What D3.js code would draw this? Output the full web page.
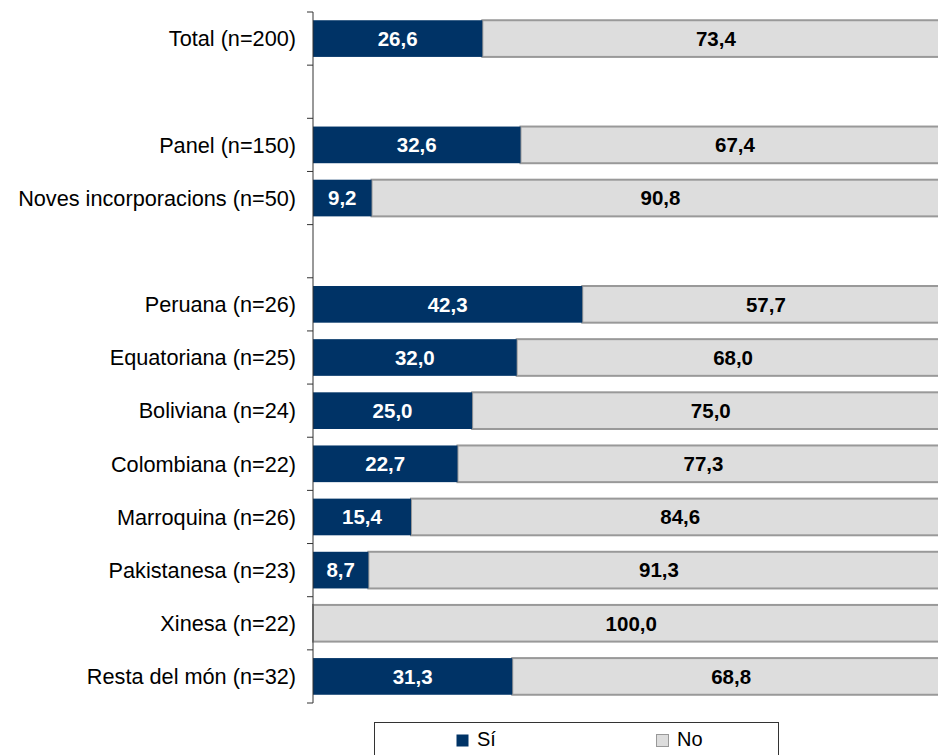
<!DOCTYPE html>
<html>
<head>
<meta charset="utf-8">
<script src="https://cdn.jsdelivr.net/npm/d3@7"></script>
<style>
    body { margin: 0; background: #fff; }
    svg { display: block; font-family: "Liberation Sans", Arial, sans-serif; }
</style>
</head>
<body>
<script>
//categories, blank slots keep the gaps between groups
var categories = ["Total (n=200)", "_gap1", "Panel (n=150)", "Noves incorporacions (n=50)", "_gap2",
    "Peruana (n=26)", "Equatoriana (n=25)", "Boliviana (n=24)", "Colombiana (n=22)",
    "Marroquina (n=26)", "Pakistanesa (n=23)", "Xinesa (n=22)", "Resta del món (n=32)"];
var siValues = [26.6, null, 32.6, 9.2, null, 42.3, 32.0, 25.0, 22.7, 15.4, 8.7, 0, 31.3];
var noValues = [73.4, null, 67.4, 90.8, null, 57.7, 68.0, 75.0, 77.3, 84.6, 91.3, 100.0, 68.8];
var seriesNames = ["Sí", "No"];
var seriesColors = ["#003366", "#dddddd"];

function drawChart(){
    var width = 938,
        height = 755;

    var svg = d3.select("body")
        .append("svg")
        .attr("width", width)
        .attr("height", height);

    //scales
    var x = d3.scaleLinear()
        .domain([0, 100])
        .range([313, 949.5]);

    var y = d3.scaleBand()
        .domain(categories)
        .range([12, 703])
        .paddingInner(0.31)
        .paddingOuter(0.155);

    var fmt = function(v){ return v.toFixed(1).replace(".", ","); };

    var rows = categories.map(function(c, i){
        return {cat: c, si: siValues[i], no: noValues[i]};
    }).filter(function(d){ return d.si !== null; });

    //No bars (underneath, full stack)
    svg.selectAll(".noBar")
        .data(rows)
        .enter()
        .append("rect")
        .attr("class", "noBar")
        .attr("x", function(d){ return x(d.si); })
        .attr("y", function(d){ return y(d.cat); })
        .attr("width", function(d){ return x(d.si + d.no) - x(d.si); })
        .attr("height", y.bandwidth())
        .attr("fill", seriesColors[1])
        .attr("stroke", "#999999")
        .attr("stroke-width", 2);

    //Sí bars
    svg.selectAll(".siBar")
        .data(rows.filter(function(d){ return d.si > 0; }))
        .enter()
        .append("rect")
        .attr("class", "siBar")
        .attr("x", x(0))
        .attr("y", function(d){ return y(d.cat); })
        .attr("width", function(d){ return x(d.si) - x(0); })
        .attr("height", y.bandwidth())
        .attr("fill", seriesColors[0]);

    //value labels
    svg.selectAll(".siLabel")
        .data(rows.filter(function(d){ return d.si > 0; }))
        .enter()
        .append("text")
        .attr("x", function(d){ return (x(0) + x(d.si)) / 2; })
        .attr("y", function(d){ return y(d.cat) + y.bandwidth() / 2; })
        .attr("dy", "0.36em")
        .attr("text-anchor", "middle")
        .attr("fill", "#ffffff")
        .style("font-weight", "bold")
        .style("font-size", "20.5px")
        .text(function(d){ return fmt(d.si); });

    svg.selectAll(".noLabel")
        .data(rows)
        .enter()
        .append("text")
        .attr("x", function(d){ return (x(d.si) + x(d.si + d.no)) / 2; })
        .attr("y", function(d){ return y(d.cat) + y.bandwidth() / 2; })
        .attr("dy", "0.36em")
        .attr("text-anchor", "middle")
        .attr("fill", "#000000")
        .style("font-weight", "bold")
        .style("font-size", "20.5px")
        .text(function(d){ return fmt(d.no); });

    //category axis with ticks at the slot boundaries
    var step = y.step();
    var boundaries = d3.range(categories.length + 1).map(function(i){ return 12 + i * step; });
    svg.append("line")
        .attr("x1", x(0)).attr("x2", x(0))
        .attr("y1", 12).attr("y2", 703)
        .attr("stroke", "#333333");
    svg.selectAll(".tick")
        .data(boundaries)
        .enter()
        .append("line")
        .attr("x1", x(0) - 6).attr("x2", x(0))
        .attr("y1", function(d){ return d; })
        .attr("y2", function(d){ return d; })
        .attr("stroke", "#333333");

    svg.selectAll(".catLabel")
        .data(rows)
        .enter()
        .append("text")
        .attr("x", 296)
        .attr("y", function(d){ return y(d.cat) + y.bandwidth() / 2; })
        .attr("dy", "0.36em")
        .attr("text-anchor", "end")
        .style("font-size", "21.7px")
        .text(function(d){ return d.cat; });

    //legend
    svg.append("rect")
        .attr("x", 374.5).attr("y", 722.5)
        .attr("width", 404).attr("height", 50)
        .attr("fill", "#ffffff")
        .attr("stroke", "#333333");

    var legendX = [456, 656];
    seriesNames.forEach(function(name, i){
        svg.append("rect")
            .attr("x", legendX[i] + 0.5).attr("y", 734.5)
            .attr("width", 12).attr("height", 12)
            .attr("fill", seriesColors[i])
            .attr("stroke", i === 1 ? "#999999" : "none");
        svg.append("text")
            .attr("x", legendX[i] + 21).attr("y", 746)
            .style("font-size", "20px")
            .text(name);
    });
}

window.onload = drawChart();
</script>
</body>
</html>
